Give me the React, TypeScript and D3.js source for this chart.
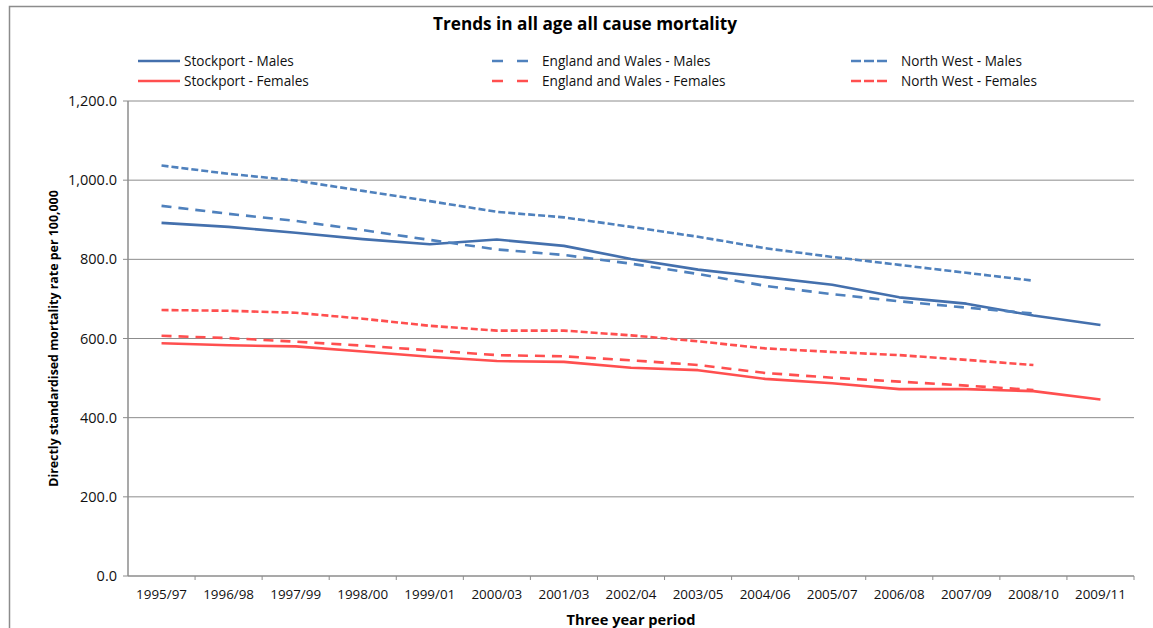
import React from "react";
import * as d3 from "d3";

const periods = [
  "1995/97", "1996/98", "1997/99", "1998/00", "1999/01", "2000/03", "2001/03",
  "2002/04", "2003/05", "2004/06", "2005/07", "2006/08", "2007/09", "2008/10", "2009/11",
];

const stockportMales = [892, 882, 867, 851, 838, 850, 834, 801, 774, 755, 736, 704, 688, 658, 634];
const englandWalesMales = [935, 915, 897, 874, 849, 825, 811, 789, 763, 733, 712, 694, 678, 663, null];
const northWestMales = [1037, 1016, 999, 973, 947, 920, 906, 882, 857, 828, 806, 786, 766, 746, null];
const stockportFemales = [588, 583, 580, 567, 554, 543, 541, 526, 520, 498, 487, 472, 472, 467, 446];
const englandWalesFemales = [607, 601, 592, 582, 570, 558, 555, 545, 533, 513, 501, 491, 481, 470, null];
const northWestFemales = [672, 670, 665, 650, 632, 620, 620, 608, 593, 575, 566, 558, 546, 533, null];

const yTicks = [0, 200, 400, 600, 800, 1000, 1200];

const BLUE_SOLID = "#4470AD";
const BLUE_DASH = "#4F81BD";
const RED = "#FF4F4F";

type Series = {
  name: string;
  values: (number | null)[];
  color: string;
  dash: string | null;
  legendDash: string | null;
};

const series: Series[] = [
  { name: "Stockport - Males", values: stockportMales, color: BLUE_SOLID, dash: null, legendDash: null },
  { name: "England and Wales - Males", values: englandWalesMales, color: BLUE_DASH, dash: "10 7", legendDash: "11 14" },
  { name: "North West - Males", values: northWestMales, color: BLUE_DASH, dash: "7 3", legendDash: "10 3" },
  { name: "Stockport - Females", values: stockportFemales, color: RED, dash: null, legendDash: null },
  { name: "England and Wales - Females", values: englandWalesFemales, color: RED, dash: "10 7", legendDash: "11 14" },
  { name: "North West - Females", values: northWestFemales, color: RED, dash: "7 3", legendDash: "10 3" },
];

const W = 1153;
const H = 628;
const plot = { left: 128, right: 1134, top: 101, bottom: 576 };
const FONT = "'Open Sans', Lato, sans-serif";

export default function App() {
  const x = d3.scaleBand<string>().domain(periods).range([plot.left, plot.right]);
  const y = d3.scaleLinear().domain([0, 1200]).range([plot.bottom, plot.top]);
  const cx = (p: string) => (x(p) ?? 0) + x.bandwidth() / 2;

  const line = d3
    .line<number | null>()
    .defined((d) => d !== null)
    .x((_, i) => cx(periods[i]))
    .y((d) => y(d as number));

  const fmt = d3.format(",.1f");

  const legendCols = [138, 492, 851];
  const legendRows = [61, 81];

  return (
    <svg
      width={W}
      height={H}
      style={{ position: "fixed", left: 0, top: 0, display: "block", background: "#fff" }}
      fontFamily={FONT}
    >
      {/* outer chart frame */}
      <rect x={9.5} y={6.5} width={W + 10} height={H + 10} fill="none" stroke="#8c8c8c" strokeWidth={1.5} />

      <text x={585} y={30} textAnchor="middle" fontSize={17.2} fontWeight="bold" fill="#000">
        Trends in all age all cause mortality
      </text>

      {/* legend */}
      {series.map((s, i) => {
        const col = i % 3;
        const row = Math.floor(i / 3);
        const lx = legendCols[col];
        const ly = legendRows[row];
        const lineLen = col === 0 ? 42 : 37;
        return (
          <g key={s.name}>
            <line
              x1={lx}
              x2={lx + lineLen}
              y1={ly}
              y2={ly}
              stroke={s.color}
              strokeWidth={2.6}
              strokeDasharray={s.legendDash ?? undefined}
            />
            <text x={lx + lineLen + (col === 0 ? 4 : 13)} y={ly + 4.8} fontSize={13.6} fill="#111">
              {s.name}
            </text>
          </g>
        );
      })}

      {/* gridlines and y axis */}
      {yTicks.map((t) => (
        <g key={t}>
          <line
            x1={plot.left - 5}
            x2={t === 0 ? plot.left : plot.right}
            y1={y(t)}
            y2={y(t)}
            stroke="#8c8c8c"
            strokeWidth={1}
          />
          <text x={plot.left - 11} y={y(t) + 5} textAnchor="end" fontSize={14.5} fill="#111">
            {fmt(t)}
          </text>
        </g>
      ))}
      <line x1={plot.left} x2={plot.left} y1={plot.top} y2={plot.bottom} stroke="#8c8c8c" strokeWidth={1.5} />

      {/* x axis */}
      <line x1={plot.left} x2={plot.right} y1={plot.bottom} y2={plot.bottom} stroke="#8c8c8c" strokeWidth={1.5} />
      {periods.map((p) => (
        <line
          key={"t" + p}
          x1={(x(p) ?? 0) + x.bandwidth()}
          x2={(x(p) ?? 0) + x.bandwidth()}
          y1={plot.bottom}
          y2={plot.bottom + 4}
          stroke="#8c8c8c"
          strokeWidth={1}
        />
      ))}
      {periods.map((p) => (
        <text key={p} x={cx(p)} y={plot.bottom + 23} textAnchor="middle" fontSize={13.4} fill="#111">
          {p}
        </text>
      ))}

      <text x={631} y={625} textAnchor="middle" fontSize={14.6} fontWeight="bold" fill="#000">
        Three year period
      </text>
      <text
        transform={`translate(58, ${(plot.top + plot.bottom) / 2}) rotate(-90)`}
        textAnchor="middle"
        fontSize={12.4}
        fontWeight="bold"
        fill="#000"
      >
        Directly standardised mortality rate per 100,000
      </text>

      {/* series lines */}
      {series.map((s) => (
        <path
          key={"l" + s.name}
          d={line(s.values) ?? undefined}
          fill="none"
          stroke={s.color}
          strokeWidth={2.6}
          strokeDasharray={s.dash ?? undefined}
          strokeLinejoin="round"
        />
      ))}
    </svg>
  );
}
